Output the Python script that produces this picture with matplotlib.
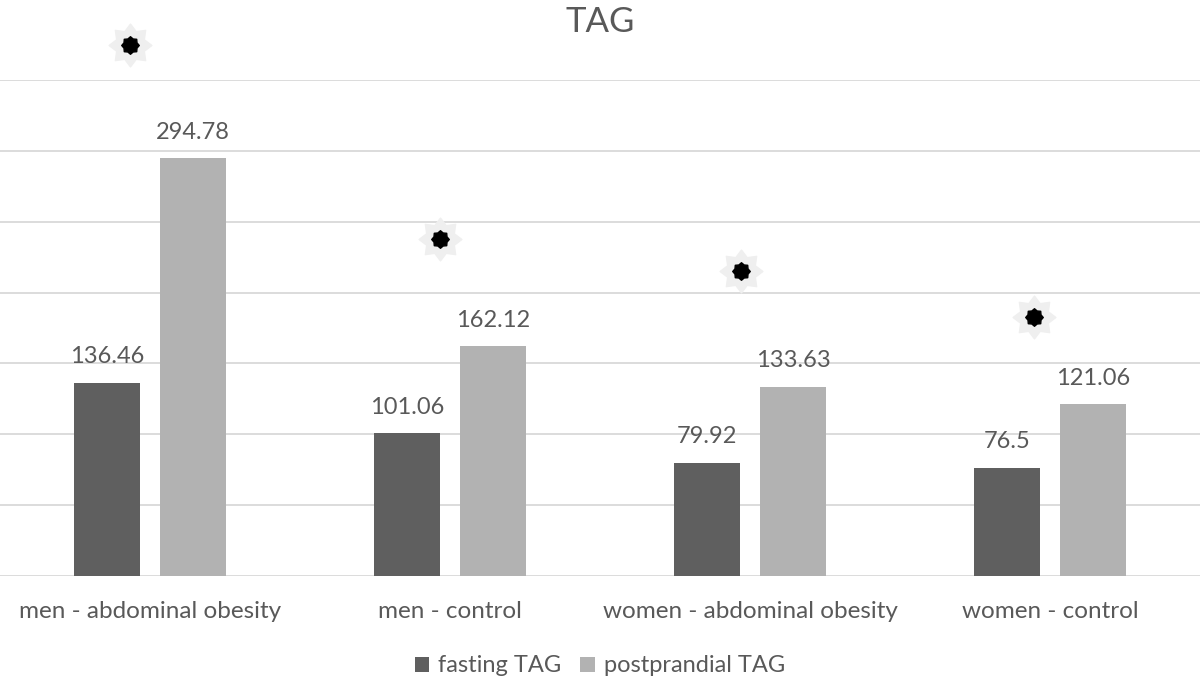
import matplotlib
matplotlib.use("Agg")
import matplotlib.pyplot as plt
from matplotlib.path import Path
import numpy as np

plt.rcParams['font.family'] = ['Lato', 'DejaVu Sans']

categories = ['men - abdominal obesity', 'men - control',
              'women - abdominal obesity', 'women - control']
fasting = [136.46, 101.06, 79.92, 76.5]
postprandial = [294.78, 162.12, 133.63, 121.06]
stars = [375, 237.5, 215.5, 182.5]   # significance markers
star_x_offset = [-0.067, -0.033, -0.03, -0.053]

text_color = '#595959'
c_fast = '#5f5f5f'
c_post = '#b2b2b2'
grid_color = '#d9d9d9'


def star_path(n=8, inner=0.72):
    ang = np.pi / 2 + np.arange(2 * n) * np.pi / n
    r = np.where(np.arange(2 * n) % 2 == 0, 1.0, inner)
    verts = np.column_stack([r * np.cos(ang), r * np.sin(ang)])
    verts = np.vstack([verts, verts[:1]])
    codes = [Path.MOVETO] + [Path.LINETO] * (2 * n - 1) + [Path.CLOSEPOLY]
    return Path(verts, codes)


fig = plt.figure(figsize=(12, 6.84), dpi=100)
ax = fig.add_axes([0, 108 / 684, 1, (576 - 80) / 684])

x = np.arange(len(categories))
w = 0.22
off = 0.143

ax.set_axisbelow(True)
for yv in range(0, 351, 50):
    ax.axhline(yv, color=grid_color, lw=1.3, zorder=0)

b1 = ax.bar(x - off, fasting, w, color=c_fast, label='fasting TAG', zorder=2)
b2 = ax.bar(x + off, postprandial, w, color=c_post, label='postprandial TAG', zorder=2)

for bars, vals in ((b1, fasting), (b2, postprandial)):
    for rect, v in zip(bars, vals):
        ax.annotate(f'{v:g}', (rect.get_x() + rect.get_width() / 2, v),
                    xytext=(0, 11), textcoords='offset points',
                    ha='center', va='bottom', fontsize=17, color=text_color)

sx = x + np.array(star_x_offset)
ax.scatter(sx, stars, marker=star_path(8, 0.7), s=950, color='#efefef', zorder=3, clip_on=False)
ax.scatter(sx, stars, marker=star_path(8, 0.8), s=160, color='black', zorder=4, clip_on=False)

ax.set_xlim(-0.5, 3.5)
ax.set_ylim(0, 350)
ax.set_xticks(x)
ax.set_xticklabels(categories, fontsize=17.5, color=text_color)
ax.tick_params(axis='x', length=0, pad=18)
ax.set_yticks([])
for s in ax.spines.values():
    s.set_visible(False)

fig.text(0.5, 1 - 22 / 684, 'TAG', ha='center', va='center', fontsize=25, color=text_color)

fig.legend(handles=[b1, b2], loc='center', bbox_to_anchor=(0.5, 1 - 666 / 684), ncol=2,
           frameon=False, fontsize=17, labelcolor=text_color,
           handlelength=0.6, handleheight=0.6, handletextpad=0.4, columnspacing=0.8)

fig.savefig('out.png', dpi=100)
